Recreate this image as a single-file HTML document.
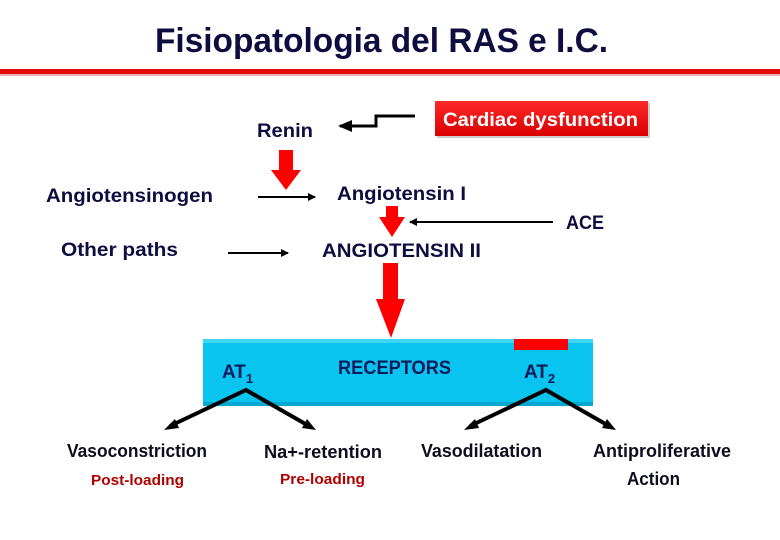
<!DOCTYPE html>
<html><head><meta charset="utf-8"><style>
html,body{margin:0;padding:0;background:#fff;width:780px;height:540px;overflow:hidden}
svg{display:block}
text{font-family:"Liberation Sans",sans-serif;font-weight:bold}
</style></head><body>
<svg width="780" height="540" viewBox="0 0 780 540" xmlns="http://www.w3.org/2000/svg">
<defs>
<linearGradient id="cg" x1="0" y1="0" x2="0" y2="1"><stop offset="0" stop-color="#ff2a2a"/><stop offset="1" stop-color="#d80000"/></linearGradient>
<marker id="ah" markerWidth="8" markerHeight="8" refX="7" refY="4" orient="auto" markerUnits="userSpaceOnUse"><path d="M0,0 L8,4 L0,8 z" fill="#000"/></marker>
<marker id="ahb" markerWidth="14" markerHeight="12" refX="12" refY="6" orient="auto" markerUnits="userSpaceOnUse"><path d="M0,0 L14,6 L0,12 z" fill="#000"/></marker>
</defs>
<text x="155" y="52" font-size="34" fill="#0d0d40" textLength="453" lengthAdjust="spacingAndGlyphs">Fisiopatologia del RAS e I.C.</text>
<rect x="0" y="69" width="780" height="5" fill="#e30a0a"/>
<rect x="0" y="74" width="780" height="2" fill="#e8b0b0"/>

<rect x="437" y="103" width="213" height="35" fill="#a0a0a0" opacity="0.5"/>
<rect x="435" y="101" width="213" height="35" fill="url(#cg)"/>
<text x="443" y="126" font-size="19" fill="#fff" textLength="195" lengthAdjust="spacingAndGlyphs">Cardiac dysfunction</text>
<polyline points="415,116 376,116 376,126 340,126" fill="none" stroke="#000" stroke-width="3" marker-end="url(#ahb)"/>
<text x="257" y="137" font-size="19" fill="#0d0d40" textLength="56" lengthAdjust="spacingAndGlyphs">Renin</text>

<path d="M279,150 H293 V170 H301 L286,190 L271,170 H279 Z" fill="#f00"/>
<text x="46" y="202" font-size="19" fill="#0d0d40" textLength="167" lengthAdjust="spacingAndGlyphs">Angiotensinogen</text>
<line x1="258" y1="197" x2="315" y2="197" stroke="#000" stroke-width="2" marker-end="url(#ah)"/>
<text x="337" y="200" font-size="19" fill="#0d0d40" textLength="129" lengthAdjust="spacingAndGlyphs">Angiotensin I</text>

<path d="M386,206 H398 V217 H405 L392,237 L379,217 H386 Z" fill="#f00"/>
<line x1="553" y1="222" x2="410" y2="222" stroke="#000" stroke-width="2" marker-end="url(#ah)"/>
<text x="566" y="229" font-size="19" fill="#0d0d40" textLength="38" lengthAdjust="spacingAndGlyphs">ACE</text>

<text x="61" y="256" font-size="19" fill="#0d0d40" textLength="117" lengthAdjust="spacingAndGlyphs">Other paths</text>
<line x1="228" y1="253" x2="288" y2="253" stroke="#000" stroke-width="2" marker-end="url(#ah)"/>
<text x="322" y="257" font-size="19" fill="#0d0d40" textLength="159" lengthAdjust="spacingAndGlyphs">ANGIOTENSIN II</text>

<path d="M383,263 H398 V299 H405 L391,338 L376,299 H383 Z" fill="#f00"/>

<rect x="203" y="339" width="390" height="67" fill="#08c4ee"/>
<rect x="203" y="339" width="390" height="4" fill="#3fd6f6"/>
<rect x="203" y="402" width="390" height="4" fill="#06a8d0"/>
<rect x="514" y="339" width="54" height="11" fill="#f00"/>
<text x="338" y="374" font-size="19" fill="#0d1a5c" textLength="113" lengthAdjust="spacingAndGlyphs">RECEPTORS</text>
<text x="222" y="378" font-size="19" fill="#0d1a5c">AT<tspan font-size="13" dy="5">1</tspan></text>
<text x="524" y="378" font-size="19" fill="#0d1a5c">AT<tspan font-size="13" dy="5">2</tspan></text>

<polyline points="170,426 246,390 309,426" fill="none" stroke="#000" stroke-width="4"/>
<path d="M164,430 L175,419 L179,428 Z" fill="#000"/>
<path d="M316,430 L302,428 L307,419 Z" fill="#000"/>
<polyline points="470,426 546,390 609,426" fill="none" stroke="#000" stroke-width="4"/>
<path d="M464,430 L475,419 L479,428 Z" fill="#000"/>
<path d="M616,430 L602,428 L607,419 Z" fill="#000"/>

<text x="67" y="457" font-size="18" fill="#0d0d20" textLength="140" lengthAdjust="spacingAndGlyphs">Vasoconstriction</text>
<text x="91" y="485" font-size="15" fill="#b00000" textLength="93" lengthAdjust="spacingAndGlyphs">Post-loading</text>
<text x="264" y="458" font-size="18" fill="#0d0d20" textLength="118" lengthAdjust="spacingAndGlyphs">Na+-retention</text>
<text x="280" y="484" font-size="15" fill="#b00000" textLength="85" lengthAdjust="spacingAndGlyphs">Pre-loading</text>
<text x="421" y="457" font-size="18" fill="#0d0d20" textLength="121" lengthAdjust="spacingAndGlyphs">Vasodilatation</text>
<text x="593" y="457" font-size="18" fill="#0d0d20" textLength="138" lengthAdjust="spacingAndGlyphs">Antiproliferative</text>
<text x="627" y="485" font-size="18" fill="#0d0d20" textLength="53" lengthAdjust="spacingAndGlyphs">Action</text>
</svg>
</body></html>
